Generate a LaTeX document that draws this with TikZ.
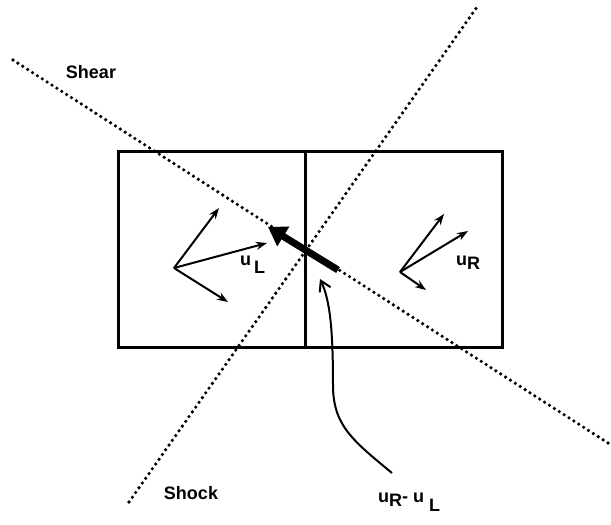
\documentclass[tikz,border=0pt]{standalone}
\usepackage{fontspec}
\setmainfont{Liberation Sans}
\usetikzlibrary{arrows.meta}
\begin{document}
\begin{tikzpicture}[x=1pt,y=-1pt,
  boxline/.style={line width=3pt},
  dotline/.style={line width=3.6pt,line cap=round,dash pattern=on 0pt off 5.8pt},
  vec/.style={line width=2pt,-{Stealth[length=11pt,width=8pt]}},
  bigvec/.style={line width=7pt,-{Triangle[length=18pt,width=22pt]}},
  lbl/.style={font=\fontsize{18}{20}\selectfont\bfseries,inner sep=0pt}]
\useasboundingbox (0,0) rectangle (611,525);
% box
\coordinate (tl) at (118,151);
\coordinate (br) at (502,347);
\coordinate (mt) at (305,151);
\coordinate (mb) at (305,347);
\draw[boxline] (tl) rectangle (br);
\draw[boxline] (mt) -- (mb);
% dotted lines
\coordinate (sh1) at (13,60);
\coordinate (sh2) at (608,443);
\coordinate (sk1) at (129,502);
\coordinate (sk2) at (477,7);
\draw[dotline] (sh1) -- (sh2);
\draw[dotline] (sk1) -- (sk2);
% labels
\node[lbl] (shear) at (91,72) {Shear};
\node[lbl] (shock) at (191,493) {Shock};
% left vectors
\coordinate (oL) at (174,268);
\coordinate (l1) at (219,208);
\coordinate (l2) at (267,243);
\coordinate (l3) at (228,302);
\draw[vec] (oL) -- (l1);
\draw[vec] (oL) -- (l2);
\draw[vec] (oL) -- (l3);
\node[lbl,anchor=west] (uL) at (240,265) {u\raisebox{-8pt}{\,L}};
% right vectors
\coordinate (oR) at (400,272);
\coordinate (r1) at (444,214);
\coordinate (r2) at (468,231);
\coordinate (r3) at (426,290);
\draw[vec] (oR) -- (r1);
\draw[vec] (oR) -- (r2);
\draw[vec] (oR) -- (r3);
\node[lbl,anchor=west] (uR) at (456,263) {u\raisebox{-4pt}{R}};
% big vector
\coordinate (bt) at (338,270);
\coordinate (bh) at (268,227);
\draw[bigvec] (bt) -- (bh);
% curve
\coordinate (cs) at (392,473);
\coordinate (ce) at (320,279);
\draw[line width=2pt,-{Straight Barb[length=10pt,width=12pt]}] (cs) .. controls (352,440) and (333,425) .. (333,385) .. controls (333,330) and (330,300) .. (ce);
\node[lbl,anchor=west] (diff) at (378,502) {u\raisebox{-4pt}{R}- u \raisebox{-9pt}{L}};
\end{tikzpicture}
\end{document}
